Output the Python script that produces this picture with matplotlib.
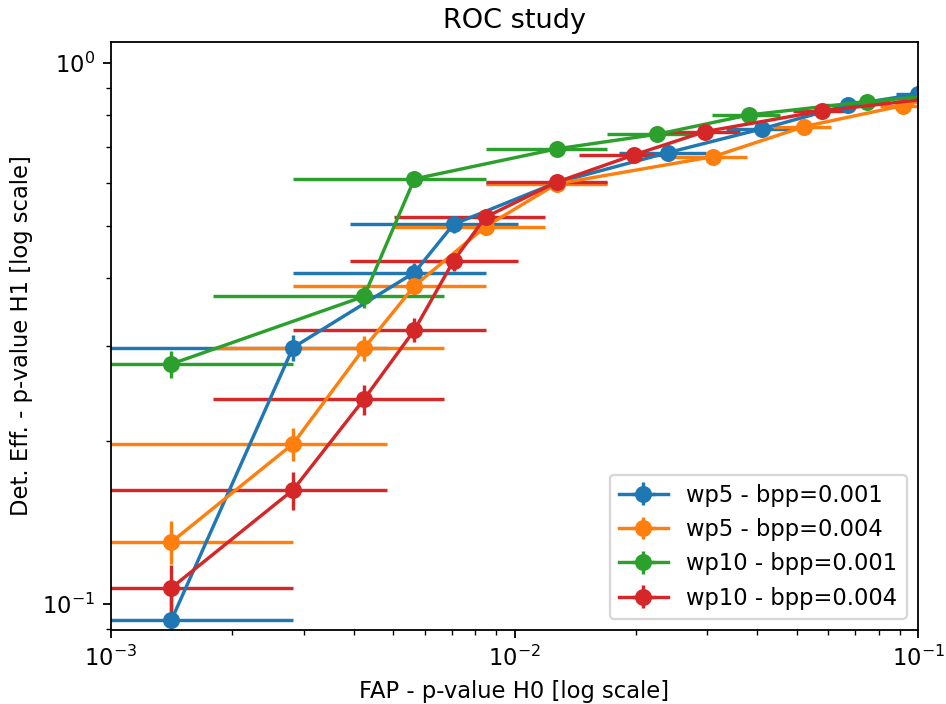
import matplotlib
matplotlib.use("Agg")
import matplotlib.pyplot as plt

# FAP (x) values and their uncertainties, detection efficiency (y) values and uncertainties
wp5_001_x = [0.001412, 0.002825, 0.005650, 0.007062, 0.012712, 0.024011, 0.040960, 0.067100, 0.100282]
wp5_001_xerr = [0.001412, 0.001998, 0.002825, 0.003158, 0.004237, 0.005824, 0.007606, 0.009740, 0.011901]
wp5_001_y = [0.0934, 0.2977, 0.4098, 0.5031, 0.601, 0.6826, 0.755, 0.836, 0.876]
wp5_001_yerr = [0.0103, 0.0162, 0.0174, 0.0177, 0.0173, 0.0165, 0.0151, 0.0132, 0.0117]

wp5_004_x = [0.001412, 0.002825, 0.004237, 0.005650, 0.008475, 0.012712, 0.031073, 0.052260, 0.091808, 0.13]
wp5_004_xerr = [0.001412, 0.001998, 0.002446, 0.002825, 0.003460, 0.004237, 0.006625, 0.008591, 0.011387, 0.0136]
wp5_004_y = [0.1302, 0.1976, 0.2969, 0.3872, 0.4981, 0.5975, 0.6710, 0.7627, 0.834, 0.888]
wp5_004_yerr = [0.0119, 0.0141, 0.0162, 0.0172, 0.0177, 0.0173, 0.0166, 0.0151, 0.0132, 0.0111]

wp10_001_x = [0.001412, 0.004237, 0.005650, 0.012712, 0.022599, 0.038136, 0.074859, 0.13]
wp10_001_xerr = [0.001412, 0.002446, 0.002825, 0.004237, 0.005650, 0.007339, 0.010283, 0.0136]
wp10_001_y = [0.2777, 0.3702, 0.6104, 0.6935, 0.7382, 0.8014, 0.848, 0.88]
wp10_001_yerr = [0.0158, 0.0171, 0.0172, 0.0164, 0.0155, 0.0141, 0.0127, 0.0115]

wp10_004_x = [0.001412, 0.002825, 0.004237, 0.005650, 0.007062, 0.008475, 0.012712, 0.019774, 0.029661, 0.057910, 0.13]
wp10_004_xerr = [0.001412, 0.001998, 0.002446, 0.002825, 0.003158, 0.003460, 0.004237, 0.005285, 0.006473, 0.009044, 0.0136]
wp10_004_y = [0.1071, 0.1624, 0.2390, 0.3209, 0.4306, 0.5186, 0.6018, 0.6761, 0.7465, 0.8153, 0.873]
wp10_004_yerr = [0.0109, 0.0130, 0.0151, 0.0165, 0.0175, 0.0177, 0.0173, 0.0165, 0.0154, 0.0137, 0.0118]

labels = ["wp5 - bpp=0.001", "wp5 - bpp=0.004", "wp10 - bpp=0.001", "wp10 - bpp=0.004"]

series = [
    (wp5_001_x, wp5_001_y, wp5_001_xerr, wp5_001_yerr),
    (wp5_004_x, wp5_004_y, wp5_004_xerr, wp5_004_yerr),
    (wp10_001_x, wp10_001_y, wp10_001_xerr, wp10_001_yerr),
    (wp10_004_x, wp10_004_y, wp10_004_xerr, wp10_004_yerr),
]

DPI = 163
fig = plt.figure(figsize=(946 / DPI, 704 / DPI), dpi=DPI)
ax = fig.add_axes([111 / 946, 1 - 630 / 704, (918 - 111) / 946, (630 - 42) / 704])

for (x, y, xe, ye), lab in zip(series, labels):
    ax.errorbar(x, y, xerr=xe, yerr=ye, marker='o', markersize=6.5, label=lab)

ax.set_xscale('log')
ax.set_yscale('log')
ax.set_xlim(1e-3, 1e-1)
ax.set_ylim(0.0895, 1.093)
ax.set_title("ROC study")
ax.set_xlabel("FAP - p-value H0 [log scale]")
ax.set_ylabel("Det. Eff. - p-value H1 [log scale]")
ax.legend(loc='lower right', handlelength=2.2)

fig.savefig("out.png", dpi=DPI)
